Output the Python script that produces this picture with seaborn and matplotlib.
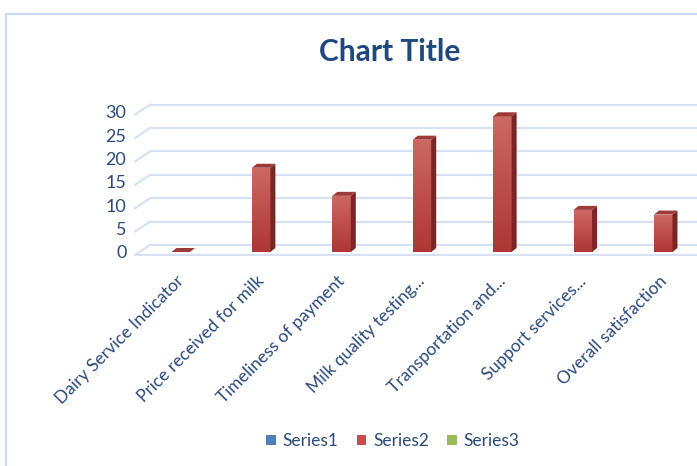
import matplotlib
matplotlib.use("Agg")
import matplotlib.pyplot as plt
import seaborn as sns
import numpy as np
import pandas as pd
from matplotlib.patches import Patch, Polygon, Rectangle
from matplotlib.transforms import ScaledTranslation, IdentityTransform

categories = ["Dairy Service Indicator", "Price received for milk", "Timeliness of payment",
              "Milk quality testing...", "Transportation and...", "Support services...",
              "Overall satisfaction"]
series2 = [0, 18, 12, 24, 29, 9, 8]
series_names = ["Series1", "Series2", "Series3"]
series_colors = ["#4f81bd", "#c0504d", "#9bbb59"]
yticks = [0, 5, 10, 15, 20, 25, 30]

sns.set_theme(style="white")
plt.rcParams["font.family"] = ["Lato", "DejaVu Sans"]
text_color = "#2b4a7a"
grid_color = "#d6e2f3"

fig = plt.figure(figsize=(6.97, 4.66), dpi=100)
W, H = 697, 466
ax = fig.add_axes([150 / W, 1 - 252 / H, (W - 150) / W, (252 - 111.6) / H])

df = pd.DataFrame({"category": categories, "value": series2})
sns.barplot(data=df, x="category", y="value", color="#c0504d", width=0.23,
            ax=ax, zorder=3, linewidth=0, saturation=1)
ax.set_xlim(-0.382, 6.42)
ax.set_ylim(0, 30)
for s in ax.spines.values():
    s.set_visible(False)
ax.set_xlabel("")
ax.set_ylabel("")
ax.set_yticks(yticks)
ax.tick_params(axis="y", length=0, pad=17, labelsize=13, labelcolor=text_color)
ax.tick_params(axis="x", length=0, pad=15, labelsize=12.5, labelcolor=text_color)
ax.set_xticks(range(len(categories)))
ax.set_xticklabels(categories, rotation=45, ha="right", rotation_mode="anchor")
for lab in ax.get_xticklabels():
    lab.set_transform(lab.get_transform() + ScaledTranslation(-5 / 100, 0, fig.dpi_scale_trans))

# back-wall gridlines (offset up) with perspective diagonals
px = lambda dx, dy: ScaledTranslation(dx / 100, dy / 100, fig.dpi_scale_trans)
ytr = ax.get_yaxis_transform()
for v in yticks:
    ax.plot([0, 1], [v, v], transform=ytr + px(0, 7), color=grid_color, lw=1.6,
            zorder=1, clip_on=False, solid_capstyle="butt")
    x0, y0 = ytr.transform((0, v))
    ln = plt.Line2D([x0 - 15, x0], [y0 - 3, y0 + 7], transform=IdentityTransform(),
                    color=grid_color, lw=1.6, zorder=1)
    fig.add_artist(ln)
# front floor edge
x0, y0 = ytr.transform((0, 0))
fig.add_artist(plt.Line2D([x0 - 15, W], [y0 - 3, y0 - 3], transform=IdentityTransform(),
                          color=grid_color, lw=1.6, zorder=1))

# 3D faces and gradient on bars
dx, dy = 5, 4
grad = np.linspace(0, 1, 100).reshape(-1, 1)
cmap = matplotlib.colors.LinearSegmentedColormap.from_list("g", ["#ad3734", "#cd6862"])
for p in ax.patches:
    x, y = p.get_x(), p.get_y()
    w, h = p.get_width(), p.get_height()
    (X0, Y0) = ax.transData.transform((x, y))
    (X1, Y1) = ax.transData.transform((x + w, y + h))
    top = Polygon([(X0, Y1), (X1, Y1), (X1 + dx, Y1 + dy), (X0 + dx, Y1 + dy)],
                  closed=True, transform=IdentityTransform(), facecolor="#9b3c39",
                  edgecolor="none", zorder=4)
    side = Polygon([(X1, Y0), (X1 + dx, Y0 + dy), (X1 + dx, Y1 + dy), (X1, Y1)],
                   closed=True, transform=IdentityTransform(), facecolor="#7a2624",
                   edgecolor="none", zorder=4)
    fig.add_artist(side)
    fig.add_artist(top)
    if h > 0:
        im = ax.imshow(grad, extent=(x, x + w, 0, h), origin="lower", cmap=cmap,
                       aspect="auto", zorder=3.5)
        im.set_clip_path(p)
ax.set_xlim(-0.382, 6.42)
ax.set_ylim(0, 30)

fig.text(390 / W, 1 - 52 / H, "Chart Title", ha="center", va="center",
         fontsize=21.5, fontweight="bold", color="#1f497d")

handles = [Patch(facecolor=c, edgecolor="none") for c in series_colors]
fig.legend(handles, series_names, loc="center", bbox_to_anchor=(393 / W, 1 - 441 / H),
           ncol=3, frameon=False, fontsize=12.5, handlelength=0.55, handleheight=0.55,
           handletextpad=0.4, columnspacing=1.05, labelcolor=text_color)

fig.add_artist(Rectangle((6 / W, -0.02), 1.0, 1 - 14 / H + 0.02, transform=fig.transFigure,
                         fill=False, edgecolor="#c9daf0", lw=1.5))

fig.savefig("out.png", dpi=100)
